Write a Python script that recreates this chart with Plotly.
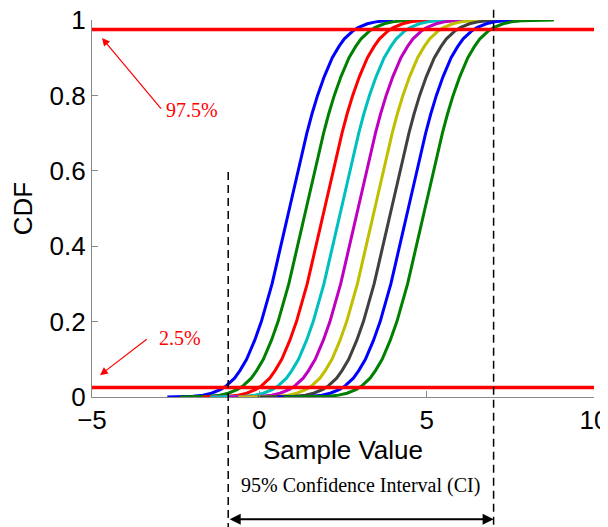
import plotly.graph_objects as go

# ---------------- data ----------------
X_RANGE = [-5, 10]
Y_RANGE = [0, 1]
x_ticks = [-5, 0, 5, 10]
y_ticks = [0, 0.2, 0.4, 0.6, 0.8, 1]

curve_colors = ["#0000ff", "#008000", "#ff0000", "#00bfbf", "#bf00bf",
                "#bfbf00", "#404040", "#0000ff", "#008000"]
curve_centers = [0.9, 1.4, 1.95, 2.45, 2.95, 3.45, 3.95, 4.45, 4.95]
curve_min = [-2.75, -2.37, -1.7, -1.47, -0.93, -0.63, -0.05, 0.54, 0.72]
curve_max = [4.0, 4.6, 5.1, 5.6, 6.1, 6.6, 7.1, 7.6, 8.8]

# shared shape of each CDF curve: offset from the curve centre at each CDF level
cdf_levels = [0.002, 0.005, 0.01, 0.02, 0.03, 0.05, 0.07, 0.1, 0.15, 0.2, 0.25,
              0.3, 0.35, 0.4, 0.45, 0.5, 0.55, 0.6, 0.65, 0.7, 0.75, 0.8, 0.85,
              0.9, 0.93, 0.95, 0.97, 0.98, 0.99, 0.995, 0.998]
cdf_offsets = [-2.88, -2.58, -2.33, -2.05, -1.88, -1.64, -1.48, -1.28, -1.04,
               -0.84, -0.67, -0.52, -0.39, -0.25, -0.13, 0.0, 0.13, 0.25, 0.39,
               0.52, 0.67, 0.84, 1.04, 1.28, 1.48, 1.64, 1.88, 2.05, 2.33,
               2.58, 2.88]

lower_level = 0.025
upper_level = 0.975
ci_low = -0.93
ci_high = 7.0

# ---------------- figure ----------------
fig = go.Figure()

for c, m, lo, hi in zip(curve_colors, curve_centers, curve_min, curve_max):
    xs = [lo] + [m + o for o in cdf_offsets] + [hi]
    ys = [0.0] + cdf_levels + [1.0]
    fig.add_trace(go.Scatter(x=xs, y=ys, mode="lines",
                             line=dict(color=c, width=3),
                             cliponaxis=False, hoverinfo="skip"))

def xp(v):
    return (v - X_RANGE[0]) / (X_RANGE[1] - X_RANGE[0])

# red quantile lines
for lv in (lower_level, upper_level):
    fig.add_shape(type="line", xref="x", yref="y", x0=X_RANGE[0], x1=X_RANGE[1],
                  y0=lv, y1=lv, line=dict(color="#ff0000", width=3.5))

# dashed CI bounds
fig.add_shape(type="line", xref="paper", yref="paper", x0=xp(ci_low), x1=xp(ci_low),
              y0=0.597, y1=-0.345, line=dict(color="black", width=1.5, dash="8px,5px"))
fig.add_shape(type="line", xref="paper", yref="paper", x0=xp(ci_high), x1=xp(ci_high),
              y0=1.027, y1=-0.345, line=dict(color="black", width=1.5, dash="8px,5px"))

serif = "Liberation Serif, Times New Roman, serif"

# 97.5% label + arrow
fig.add_annotation(x=-4.70, y=0.952, xref="x", yref="y", ax=-2.90, ay=0.761,
                   axref="x", ayref="y", text="", showarrow=True, arrowhead=2,
                   arrowsize=1.3, arrowwidth=1.2, arrowcolor="#ff0000",
                   standoff=0, startstandoff=0)
fig.add_annotation(x=-2.85, y=0.76, xref="x", yref="y", text="97.5%", showarrow=False,
                   xanchor="left", yanchor="middle",
                   font=dict(family=serif, size=20, color="#ff0000"))
# 2.5% label + arrow
fig.add_annotation(x=-4.76, y=0.058, xref="x", yref="y", ax=-3.32, ay=0.156,
                   axref="x", ayref="y", text="", showarrow=True, arrowhead=2,
                   arrowsize=1.3, arrowwidth=1.2, arrowcolor="#ff0000",
                   standoff=0, startstandoff=0)
fig.add_annotation(x=-3.05, y=0.156, xref="x", yref="y", text="2.5%", showarrow=False,
                   xanchor="left", yanchor="middle",
                   font=dict(family=serif, size=20, color="#ff0000"))

# CI text + double arrow
fig.add_annotation(x=(ci_low + ci_high) / 2, y=-0.27, xref="x", yref="paper",
                   text="95% Confidence Interval (CI)", showarrow=False,
                   font=dict(family=serif, size=20, color="black"))
fig.add_annotation(x=ci_high, y=-0.324, xref="x", yref="paper", ax=ci_low, ay=0,
                   axref="x", ayref="pixel", text="", showarrow=True,
                   arrowhead=2, arrowside="end+start", arrowsize=1.1,
                   arrowwidth=2, arrowcolor="black", standoff=0, startstandoff=0)

sans = "Liberation Sans, Arial, sans-serif"
axis_common = dict(showgrid=False, zeroline=False, showline=True, linecolor="#888888",
                   linewidth=1.3, ticks="inside", ticklen=6, tickcolor="#888888",
                   tickwidth=1.2, automargin=False, ticklabeloverflow="allow",
                   tickfont=dict(family=sans, size=26, color="black"))

fig.update_xaxes(range=X_RANGE, tickvals=x_ticks, **axis_common,
                 title=dict(text="Sample Value", font=dict(family=sans, size=26, color="black"),
                            standoff=0))
fig.update_yaxes(range=Y_RANGE, tickvals=y_ticks, **axis_common,
                 title=dict(text="CDF", font=dict(family=sans, size=26, color="black"),
                            standoff=10))

# page body has an 8px margin, so the figure is drawn at (8, 8)
fig.update_layout(width=600, height=519, margin=dict(l=84, r=14, t=12, b=130),
                  plot_bgcolor="white", paper_bgcolor="white", showlegend=False)

fig.write_html("out.html")
